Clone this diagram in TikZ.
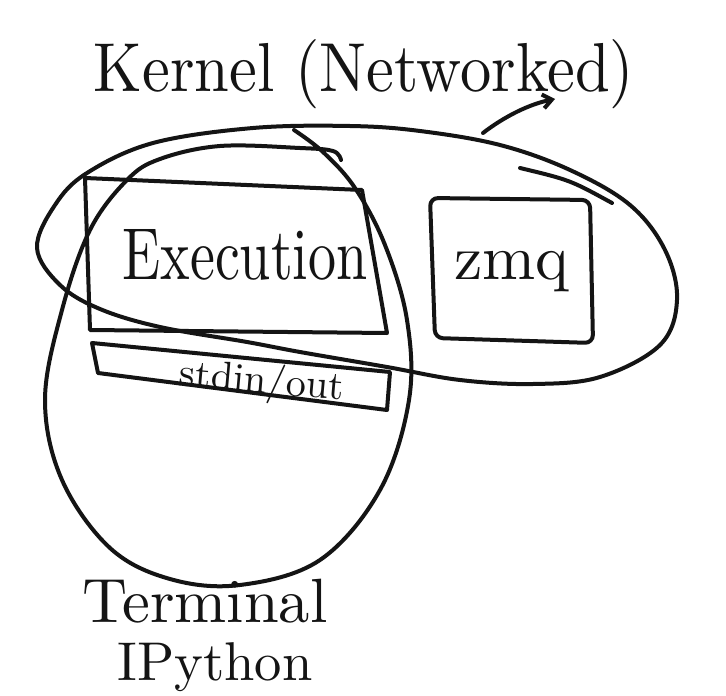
\documentclass[tikz,border=0pt]{standalone}
\usepackage{graphicx}
\usetikzlibrary{arrows.meta}
\begin{document}
\begin{tikzpicture}[x=1pt,y=-1pt,
  ink/.style={line width=4pt, line cap=round, line join=round, draw=black!92},
  lbl/.style={inner sep=0pt, text=black!92}]
\useasboundingbox (0,0) rectangle (726,696);
\fill[white] (0,0) rectangle (726,696);

% title
\node[lbl] (title) at (364,74) {\resizebox{540pt}{52pt}{Kernel (Networked)}};

% kernel ellipse
\draw[ink] plot[smooth cycle, tension=0.6] coordinates {
  (37,248) (55,205) (87,173) (153,143) (253,128) (350,126) (420,131)
  (500,145) (570,170) (630,205) (665,250) (677,300) (660,345) (600,377)
  (533,384) (460,380) (387,367) (300,352) (247,342) (160,327) (100,309) (60,285)};
\draw[ink] (520,168) .. controls (570,180) .. (612,203);

% terminal ellipse (open, hand-drawn)
\draw[ink] plot[smooth, tension=0.6] coordinates {
  (341,160) (333,151) (300,148) (220,146) (160,159) (127,180) (90,230)
  (62,310) (45,400) (62,480) (110,548) (170,579) (240,585) (320,560)
  (380,490) (409,400) (407,320) (385,245) (355,188) (323,152) (294,130)};

% execution box
\coordinate (e1) at (85,178); \coordinate (e2) at (362,190);
\coordinate (e3) at (387,333); \coordinate (e4) at (90,330);
\draw[ink] (e1) -- (e2) -- (e3) -- (e4) -- cycle;
\node[lbl] (exec) at (245,255) {\resizebox{245pt}{50pt}{Execution}};

% stdin/out box
\coordinate (s1) at (92,343); \coordinate (s2) at (390,372);
\coordinate (s3) at (387,410); \coordinate (s4) at (98,373);
\draw[ink] (s1) -- (s2) -- (s3) -- (s4) -- cycle;
\node[lbl, rotate=-5] (stdio) at (262,383) {\resizebox{165pt}{!}{stdin/out}};

% zmq box
\coordinate (z1) at (430,198); \coordinate (z2) at (590,200);
\coordinate (z3) at (593,343); \coordinate (z4) at (435,338);
\draw[ink, rounded corners=8pt] (z1) -- (z2) -- (z3) -- (z4) -- cycle;
\node[lbl] (zmq) at (512,272) {\resizebox{115pt}{!}{zmq}};

% terminal label
\node[lbl, anchor=base] (term) at (205,622) {\resizebox{245pt}{!}{Terminal}};
\node[lbl, anchor=base] (ipy) at (215,680) {\resizebox{195pt}{!}{IPython}};

% arrow from kernel ellipse to the title
\coordinate (arrowtail) at (483,133);
\coordinate (arrowtip) at (555,99);
\draw[ink, -{Straight Barb[length=9pt,width=14pt]}] (arrowtail) .. controls (505,116) and (530,104) .. (arrowtip);
\end{tikzpicture}
\end{document}
